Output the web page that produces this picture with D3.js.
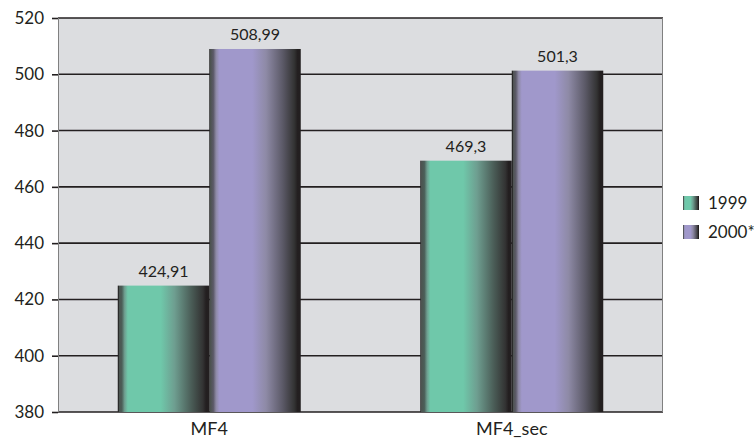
<!DOCTYPE html>
<html>
<head>
<meta charset="utf-8">
<script src="https://cdn.jsdelivr.net/npm/d3@7"></script>
<style>
  html, body { margin: 0; padding: 0; background: #ffffff; }
  svg { display: block; font-family: "Lato", "Open Sans", sans-serif; }
</style>
</head>
<body>
<svg id="chart" width="754" height="445"></svg>
<script>
// Chart data
const categories = ["MF4", "MF4_sec"];
const seriesNames = ["1999", "2000*"];
const values1999 = [424.91, 469.3];
const values2000 = [508.99, 501.3];
const valueLabels1999 = ["424,91", "469,3"];
const valueLabels2000 = ["508,99", "501,3"];
const yTicks = [380, 400, 420, 440, 460, 480, 500, 520];

const series = [
  { name: seriesNames[0], values: values1999, labels: valueLabels1999, key: "s0" },
  { name: seriesNames[1], values: values2000, labels: valueLabels2000, key: "s1" }
];

const svg = d3.select("#chart");
const margin = { left: 58, right: 91, top: 18, bottom: 33 };
const W = 754, H = 445;
const plotW = W - margin.left - margin.right;
const plotH = H - margin.top - margin.bottom;

const x0 = d3.scaleBand().domain(categories).range([0, plotW]).paddingInner(0).paddingOuter(0);
const groupW = x0.bandwidth() * 0.605;
const x1 = d3.scaleBand().domain(series.map(s => s.key)).range([0, groupW]).padding(0);
const y = d3.scaleLinear().domain([380, 520]).range([plotH, 0]);

// Cylinder-like shading for each series
const defs = svg.append("defs");
function shade(id, base, mid, dark) {
  const g = defs.append("linearGradient").attr("id", id)
    .attr("x1", "0").attr("x2", "1").attr("y1", "0").attr("y2", "0");
  const stops = [
    [0.00, "#2a2a2a"], [0.012, "#2a2a2a"], [0.013, "#4d5350"],
    [0.045, dark], [0.075, mid], [0.11, base], [0.14, base],
    [0.47, base], [0.62, mid], [0.80, dark], [0.93, "#333333"],
    [0.965, "#231f20"], [1.0, "#231f20"]
  ];
  stops.forEach(([o, c]) => g.append("stop").attr("offset", o).attr("stop-color", c));
}
shade("g-s0", "#6fc8aa", "#6e9e90", "#4b5e58");
shade("g-s1", "#a098cb", "#8e8aa6", "#5c5a68");

const g = svg.append("g").attr("transform", `translate(${margin.left},${margin.top})`);

// Plot background
g.append("rect").attr("x", 0).attr("y", 0).attr("width", plotW).attr("height", plotH)
  .attr("fill", "#dcdde0");

// Gridlines
g.append("g").selectAll("line").data(yTicks).join("line")
  .attr("x1", 0).attr("x2", plotW)
  .attr("y1", d => y(d)).attr("y2", d => y(d))
  .attr("stroke", "#231f20").attr("stroke-width", 1.6);

// Plot border (sides)
g.append("line").attr("x1", 0.5).attr("x2", 0.5).attr("y1", 0).attr("y2", plotH)
  .attr("stroke", "#808080").attr("stroke-width", 1);
g.append("line").attr("x1", plotW - 0.5).attr("x2", plotW - 0.5).attr("y1", 0).attr("y2", plotH)
  .attr("stroke", "#808080").attr("stroke-width", 1);

// Y axis
const yAxis = d3.axisLeft(y).tickValues(yTicks).tickSize(6).tickPadding(8).tickFormat(d3.format("d"));
const ya = g.append("g").call(yAxis);
ya.select(".domain").remove();
ya.selectAll(".tick line").attr("stroke", "#231f20").attr("stroke-width", 1.6);
ya.selectAll(".tick text").attr("fill", "#231f20").style("font-size", "17px")
  .style("font-family", "Lato, 'Open Sans', sans-serif");

// X axis labels
const xa = g.append("g").attr("transform", `translate(0,${plotH})`)
  .call(d3.axisBottom(x0).tickSize(0).tickPadding(10));
xa.select(".domain").remove();
xa.selectAll(".tick text").attr("fill", "#231f20").style("font-size", "18px")
  .style("font-family", "Lato, 'Open Sans', sans-serif");

// Bars
const groups = g.append("g").selectAll("g").data(categories).join("g")
  .attr("transform", d => `translate(${x0(d) + (x0.bandwidth() - groupW) / 2},0)`);

groups.each(function (cat, ci) {
  const grp = d3.select(this);
  series.forEach(s => {
    const v = s.values[ci];
    grp.append("rect")
      .attr("x", x1(s.key)).attr("width", x1.bandwidth())
      .attr("y", y(v)).attr("height", plotH - y(v))
      .attr("fill", `url(#g-${s.key})`);
    grp.append("text")
      .attr("x", x1(s.key) + x1.bandwidth() / 2)
      .attr("y", y(v) - 9)
      .attr("text-anchor", "middle")
      .attr("fill", "#231f20")
      .style("font-size", "16px")
      .text(s.labels[ci]);
  });
});

// Legend
const legend = svg.append("g").attr("transform", "translate(683,196)");
series.forEach((s, i) => {
  const row = legend.append("g").attr("transform", `translate(0,${i * 29})`);
  row.append("rect").attr("x", 0).attr("y", 0).attr("width", 16).attr("height", 14)
    .attr("fill", `url(#g-${s.key})`);
  row.append("text").attr("x", 25).attr("y", 13)
    .attr("fill", "#231f20").style("font-size", "17px").text(s.name);
});
</script>
</body>
</html>
